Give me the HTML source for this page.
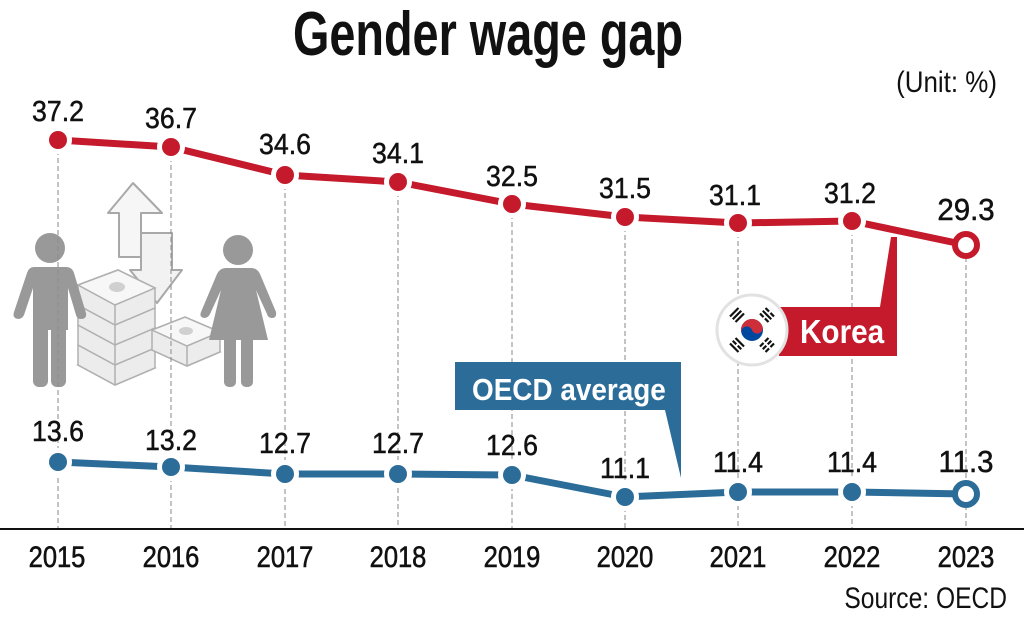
<!DOCTYPE html>
<html>
<head>
<meta charset="utf-8">
<style>
  html,body{margin:0;padding:0;background:#fff;}
  svg{display:block;}
  text{font-family:"Liberation Sans",Arial,sans-serif;}
</style>
</head>
<body>
<svg width="1024" height="620" viewBox="0 0 1024 620" xmlns="http://www.w3.org/2000/svg">
  <rect width="1024" height="620" fill="#fff"/>

  <!-- Title -->
  <text transform="translate(488,55) scale(0.755,1)" text-anchor="middle" font-size="62" font-weight="bold" fill="#111">Gender wage gap</text>
  <text transform="translate(997,92) scale(0.865,1)" text-anchor="end" font-size="30" fill="#111">(Unit: %)</text>

  <!-- Illustration -->
  <g>
    <!-- arrows -->
    <polygon points="133,183 162,213 141,213 141,257 119,257 119,213 108,213" fill="#f6f6f6" stroke="#a8a8a8" stroke-width="2" stroke-linejoin="round"/>
    <polygon points="141,233 172,233 172,270 182,270 157,303 130,270 141,270" fill="#f2f2f2" stroke="#a8a8a8" stroke-width="2" stroke-linejoin="round"/>
    <!-- big stack -->
    <g stroke="#b0b0b0" stroke-width="1.5" fill="#ececec">
      <polygon points="78,365 118,350 155,368 115,385"/>
      <polygon points="78,345 118,330 155,348 155,368 115,385 78,365"/>
      <polygon points="78,325 118,310 155,328 155,348 115,365 78,345"/>
      <polygon points="78,305 118,290 155,308 155,328 115,345 78,325"/>
      <polygon points="78,285 118,270 155,288 155,308 115,325 78,305"/>
      <polygon points="78,285 118,270 155,288 115,305" fill="#f7f7f7"/>
      <line x1="115" y1="305" x2="115" y2="385"/>
      <ellipse cx="117" cy="287" rx="8" ry="5" fill="#d0d0d0" stroke="none"/>
    </g>
    <!-- small stack -->
    <g stroke="#b0b0b0" stroke-width="1.5" fill="#ececec">
      <polygon points="152,350 185,337 220,352 187,366"/>
      <polygon points="152,330 185,317 220,332 220,352 187,366 152,350"/>
      <polygon points="152,330 185,317 220,332 187,346" fill="#f7f7f7"/>
      <line x1="187" y1="346" x2="187" y2="366"/>
      <ellipse cx="186" cy="331" rx="7" ry="4" fill="#d0d0d0" stroke="none"/>
    </g>
    <!-- man -->
    <g fill="#999">
      <circle cx="50" cy="248" r="15"/>
      <path d="M34,267 L66,267 Q72,267 74,273 L86,313 Q87,319 81,319 Q77,319 76,315 L68,288 L68,330 L33,330 L33,288 L24,315 Q22,319 18,319 Q12,318 14,312 L27,273 Q29,267 34,267 Z"/>
      <rect x="33" y="325" width="15" height="62" rx="6"/>
      <rect x="51" y="325" width="15" height="62" rx="6"/>
    </g>
    <!-- woman -->
    <g fill="#999">
      <circle cx="238" cy="250" r="15"/>
      <path d="M226,268 L251,268 Q257,268 260,274 L276,312 Q277,318 272,318 Q268,318 267,314 L256,290 L268,340 L209,340 L221,290 L210,314 Q208,318 204,318 Q199,317 201,312 L217,274 Q220,268 226,268 Z"/>
      <rect x="224" y="335" width="12" height="52" rx="5"/>
      <rect x="241" y="335" width="12" height="52" rx="5"/>
    </g>
  </g>

  <!-- Gridlines -->
  <g stroke="#8a8a8a" stroke-width="1" stroke-dasharray="5,3">
    <line x1="58" y1="150" x2="58" y2="529"/>
    <line x1="171" y1="157" x2="171" y2="529"/>
    <line x1="285" y1="185" x2="285" y2="529"/>
    <line x1="398" y1="192" x2="398" y2="529"/>
    <line x1="512" y1="214" x2="512" y2="529"/>
    <line x1="625" y1="227" x2="625" y2="529"/>
    <line x1="738" y1="233" x2="738" y2="529"/>
    <line x1="852" y1="231" x2="852" y2="529"/>
    <line x1="966" y1="257" x2="966" y2="529"/>
  </g>

  <!-- Axis -->
  <line x1="0" y1="529" x2="1024" y2="529" stroke="#111" stroke-width="2"/>

  <!-- Korea callout -->
  <polygon points="779,307 880,307 891,237 897,237 897,356 779,356" fill="#c41a2b"/>
  <text transform="translate(800,343) scale(0.9,1)" font-size="33" font-weight="bold" fill="#fff">Korea</text>
  <!-- flag -->
  <circle cx="752" cy="330" r="35" fill="#fff" stroke="#e2e2e2" stroke-width="3"/>
  <circle cx="752" cy="330" r="11" fill="#0047a0"/>
  <path d="M741,330 A11,11 0 0 1 763,330 A5.5,5.5 0 0 1 752,330 A5.5,5.5 0 0 0 741,330 Z" fill="#cd2e3a" transform="rotate(-20 752 330)"/>
  <g fill="#111">
    <g transform="translate(737,315) rotate(-45)"><rect x="-6" y="-5" width="12" height="2.2"/><rect x="-6" y="-1.1" width="12" height="2.2"/><rect x="-6" y="2.8" width="12" height="2.2"/></g>
    <g transform="translate(767,315) rotate(45)"><rect x="-6" y="-5" width="5" height="2.2"/><rect x="1" y="-5" width="5" height="2.2"/><rect x="-6" y="-1.1" width="12" height="2.2"/><rect x="-6" y="2.8" width="5" height="2.2"/><rect x="1" y="2.8" width="5" height="2.2"/></g>
    <g transform="translate(737,345) rotate(45)"><rect x="-6" y="-5" width="12" height="2.2"/><rect x="-6" y="-1.1" width="5" height="2.2"/><rect x="1" y="-1.1" width="5" height="2.2"/><rect x="-6" y="2.8" width="12" height="2.2"/></g>
    <g transform="translate(767,345) rotate(-45)"><rect x="-6" y="-5" width="5" height="2.2"/><rect x="1" y="-5" width="5" height="2.2"/><rect x="-6" y="-1.1" width="5" height="2.2"/><rect x="1" y="-1.1" width="5" height="2.2"/><rect x="-6" y="2.8" width="5" height="2.2"/><rect x="1" y="2.8" width="5" height="2.2"/></g>
  </g>

  <!-- OECD callout -->
  <polygon points="455,362 681,362 681,478 665,410 455,410" fill="#2b6c98"/>
  <text transform="translate(472,400) scale(0.9,1)" font-size="31" font-weight="bold" fill="#fff">OECD average</text>

  <!-- Korea series -->
  <polyline points="58,140 171,147 285,175 398,182 512,204 625,217 738,223 852,221 966,245" fill="none" stroke="#c41a2b" stroke-width="7" stroke-linejoin="round"/>
  <g fill="#fff">
    <circle cx="58" cy="140" r="14"/><circle cx="171" cy="147" r="14"/><circle cx="285" cy="175" r="14"/>
    <circle cx="398" cy="182" r="14"/><circle cx="512" cy="204" r="14"/><circle cx="625" cy="217" r="14"/>
    <circle cx="738" cy="223" r="14"/><circle cx="852" cy="221" r="14"/>
  </g>
  <g fill="#c41a2b">
    <circle cx="58" cy="140" r="9"/><circle cx="171" cy="147" r="9"/><circle cx="285" cy="175" r="9"/>
    <circle cx="398" cy="182" r="9"/><circle cx="512" cy="204" r="9"/><circle cx="625" cy="217" r="9"/>
    <circle cx="738" cy="223" r="9"/><circle cx="852" cy="221" r="9"/>
  </g>
  <circle cx="966" cy="245" r="11" fill="#fff" stroke="#c41a2b" stroke-width="6"/>

  <!-- OECD series -->
  <polyline points="58,462 171,467 285,474 398,474 512,475 625,497 738,492 852,492 966,494" fill="none" stroke="#2b6c98" stroke-width="7" stroke-linejoin="round"/>
  <g fill="#fff">
    <circle cx="58" cy="462" r="14"/><circle cx="171" cy="467" r="14"/><circle cx="285" cy="474" r="14"/>
    <circle cx="398" cy="474" r="14"/><circle cx="512" cy="475" r="14"/><circle cx="625" cy="497" r="14"/>
    <circle cx="738" cy="492" r="14"/><circle cx="852" cy="492" r="14"/>
  </g>
  <g fill="#2b6c98">
    <circle cx="58" cy="462" r="9"/><circle cx="171" cy="467" r="9"/><circle cx="285" cy="474" r="9"/>
    <circle cx="398" cy="474" r="9"/><circle cx="512" cy="475" r="9"/><circle cx="625" cy="497" r="9"/>
    <circle cx="738" cy="492" r="9"/><circle cx="852" cy="492" r="9"/>
  </g>
  <circle cx="966" cy="494" r="11" fill="#fff" stroke="#2b6c98" stroke-width="6"/>

  <!-- Korea labels -->
  <g font-size="29" fill="#111" stroke="#111" stroke-width="0.5" text-anchor="middle">
    <text transform="translate(58,121) scale(0.92,1)">37.2</text>
    <text transform="translate(171,128) scale(0.92,1)">36.7</text>
    <text transform="translate(285,154) scale(0.92,1)">34.6</text>
    <text transform="translate(398,163) scale(0.92,1)">34.1</text>
    <text transform="translate(512,186) scale(0.92,1)">32.5</text>
    <text transform="translate(625,198) scale(0.92,1)">31.5</text>
    <text transform="translate(735,205) scale(0.92,1)">31.1</text>
    <text transform="translate(850,203) scale(0.92,1)">31.2</text>
    <text transform="translate(966,220) scale(0.95,1)" font-size="31">29.3</text>
  </g>

  <!-- OECD labels -->
  <g font-size="29" fill="#111" stroke="#111" stroke-width="0.5" text-anchor="middle">
    <text transform="translate(58,441) scale(0.92,1)">13.6</text>
    <text transform="translate(171,450) scale(0.92,1)">13.2</text>
    <text transform="translate(285,453) scale(0.92,1)">12.7</text>
    <text transform="translate(398,453) scale(0.92,1)">12.7</text>
    <text transform="translate(512,455) scale(0.92,1)">12.6</text>
    <text transform="translate(625,478) scale(0.92,1)">11.1</text>
    <text transform="translate(738,472) scale(0.92,1)">11.4</text>
    <text transform="translate(852,472) scale(0.92,1)">11.4</text>
    <text transform="translate(966,472) scale(0.95,1)" font-size="31">11.3</text>
  </g>

  <!-- Year labels -->
  <g font-size="30" fill="#111" stroke="#111" stroke-width="0.6" text-anchor="middle">
    <text transform="translate(57,567) scale(0.85,1)">2015</text>
    <text transform="translate(171,567) scale(0.85,1)">2016</text>
    <text transform="translate(285,567) scale(0.85,1)">2017</text>
    <text transform="translate(398,567) scale(0.85,1)">2018</text>
    <text transform="translate(512,567) scale(0.85,1)">2019</text>
    <text transform="translate(625,567) scale(0.85,1)">2020</text>
    <text transform="translate(738,567) scale(0.85,1)">2021</text>
    <text transform="translate(852,567) scale(0.85,1)">2022</text>
    <text transform="translate(966,567) scale(0.85,1)">2023</text>
  </g>

  <!-- Source -->
  <text transform="translate(1007,608) scale(0.82,1)" text-anchor="end" font-size="30" fill="#111">Source: OECD</text>
</svg>
</body>
</html>
